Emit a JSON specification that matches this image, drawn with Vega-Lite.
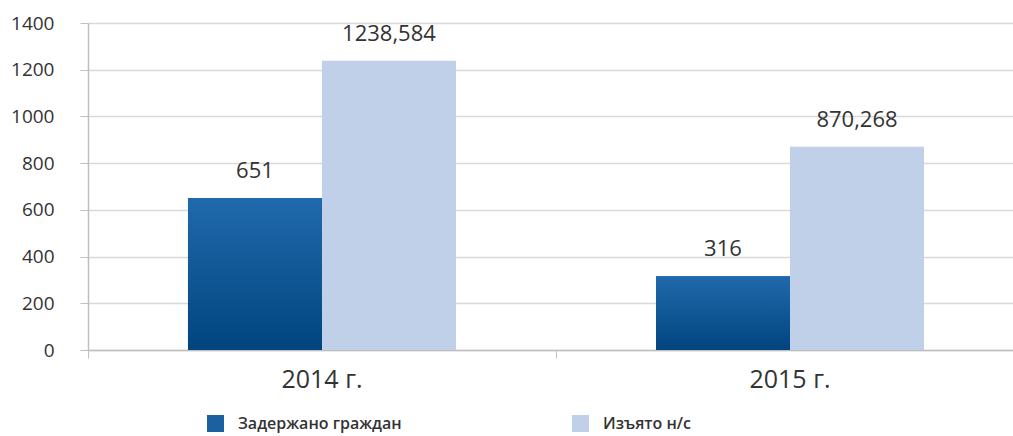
{
  "$schema": "https://vega.github.io/schema/vega-lite/v6.json",
  "width": 925,
  "height": 327,
  "autosize": {"type": "none"},
  "padding": {"left": 88, "top": 23, "right": 0, "bottom": 86},
  "background": "white",
  "config": {"view": {"stroke": null}, "font": "Open Sans"},
  "data": {
    "values": [
      {"year": "2014 г.", "series": "Задержано граждан", "value": 651, "label": "651"},
      {"year": "2014 г.", "series": "Изъято н/с", "value": 1238.584, "label": "1238,584"},
      {"year": "2015 г.", "series": "Задержано граждан", "value": 316, "label": "316"},
      {"year": "2015 г.", "series": "Изъято н/с", "value": 870.268, "label": "870,268"}
    ]
  },
  "encoding": {
    "x": {
      "field": "year",
      "type": "nominal",
      "scale": {"paddingInner": 0.4274, "paddingOuter": 0.2019, "align": 0.529},
      "axis": {
        "title": null,
        "labelAngle": 0,
        "labelFontSize": 25,
        "labelColor": "#333333",
        "labelPadding": 9,
        "domainColor": "#bfbfbf",
        "domainWidth": 1.5,
        "tickColor": "#bfbfbf",
        "tickSize": 8,
        "bandPosition": -0.373
      }
    },
    "xOffset": {
      "field": "series",
      "type": "nominal",
      "scale": {"domain": ["Задержано граждан", "Изъято н/с"], "paddingInner": 0, "paddingOuter": 0}
    },
    "y": {
      "field": "value",
      "type": "quantitative",
      "scale": {"domain": [0, 1400], "nice": false},
      "axis": {
        "title": null,
        "format": "d",
        "values": [0, 200, 400, 600, 800, 1000, 1200, 1400],
        "grid": true,
        "gridColor": "#d9d9d9",
        "gridWidth": 1.5,
        "domainColor": "#bfbfbf",
        "domainWidth": 1.5,
        "tickColor": "#bfbfbf",
        "tickSize": 8,
        "labelFontSize": 19,
        "labelColor": "#333333",
        "labelPadding": 26
      }
    }
  },
  "layer": [
    {
      "mark": {"type": "bar"},
      "encoding": {
        "color": {
          "field": "series",
          "type": "nominal",
          "scale": {"domain": ["Задержано граждан", "Изъято н/с"], "range": ["#1b60a0", "#bfd0e8"]},
          "legend": {
            "title": null,
            "orient": "none",
            "legendX": 119,
            "legendY": 392,
            "direction": "horizontal",
            "columns": 2,
            "columnPadding": 170,
            "padding": 0,
            "symbolType": "square",
            "symbolSize": 289,
            "symbolStrokeWidth": 0,
            "labelFontSize": 16,
            "labelFontWeight": 600,
            "labelColor": "#333333",
            "labelOffset": 14,
            "labelLimit": 300
          }
        }
      }
    },
    {
      "transform": [{"filter": "datum.series === 'Задержано граждан'"}],
      "mark": {
        "type": "bar",
        "color": {
          "gradient": "linear",
          "x1": 0, "y1": 0, "x2": 0, "y2": 1,
          "stops": [
            {"offset": 0, "color": "#2069ac"},
            {"offset": 1, "color": "#00457f"}
          ]
        }
      }
    },
    {
      "mark": {"type": "text", "baseline": "alphabetic", "dy": -20, "fontSize": 22, "color": "#333333"},
      "encoding": {"text": {"field": "label"}}
    }
  ]
}
